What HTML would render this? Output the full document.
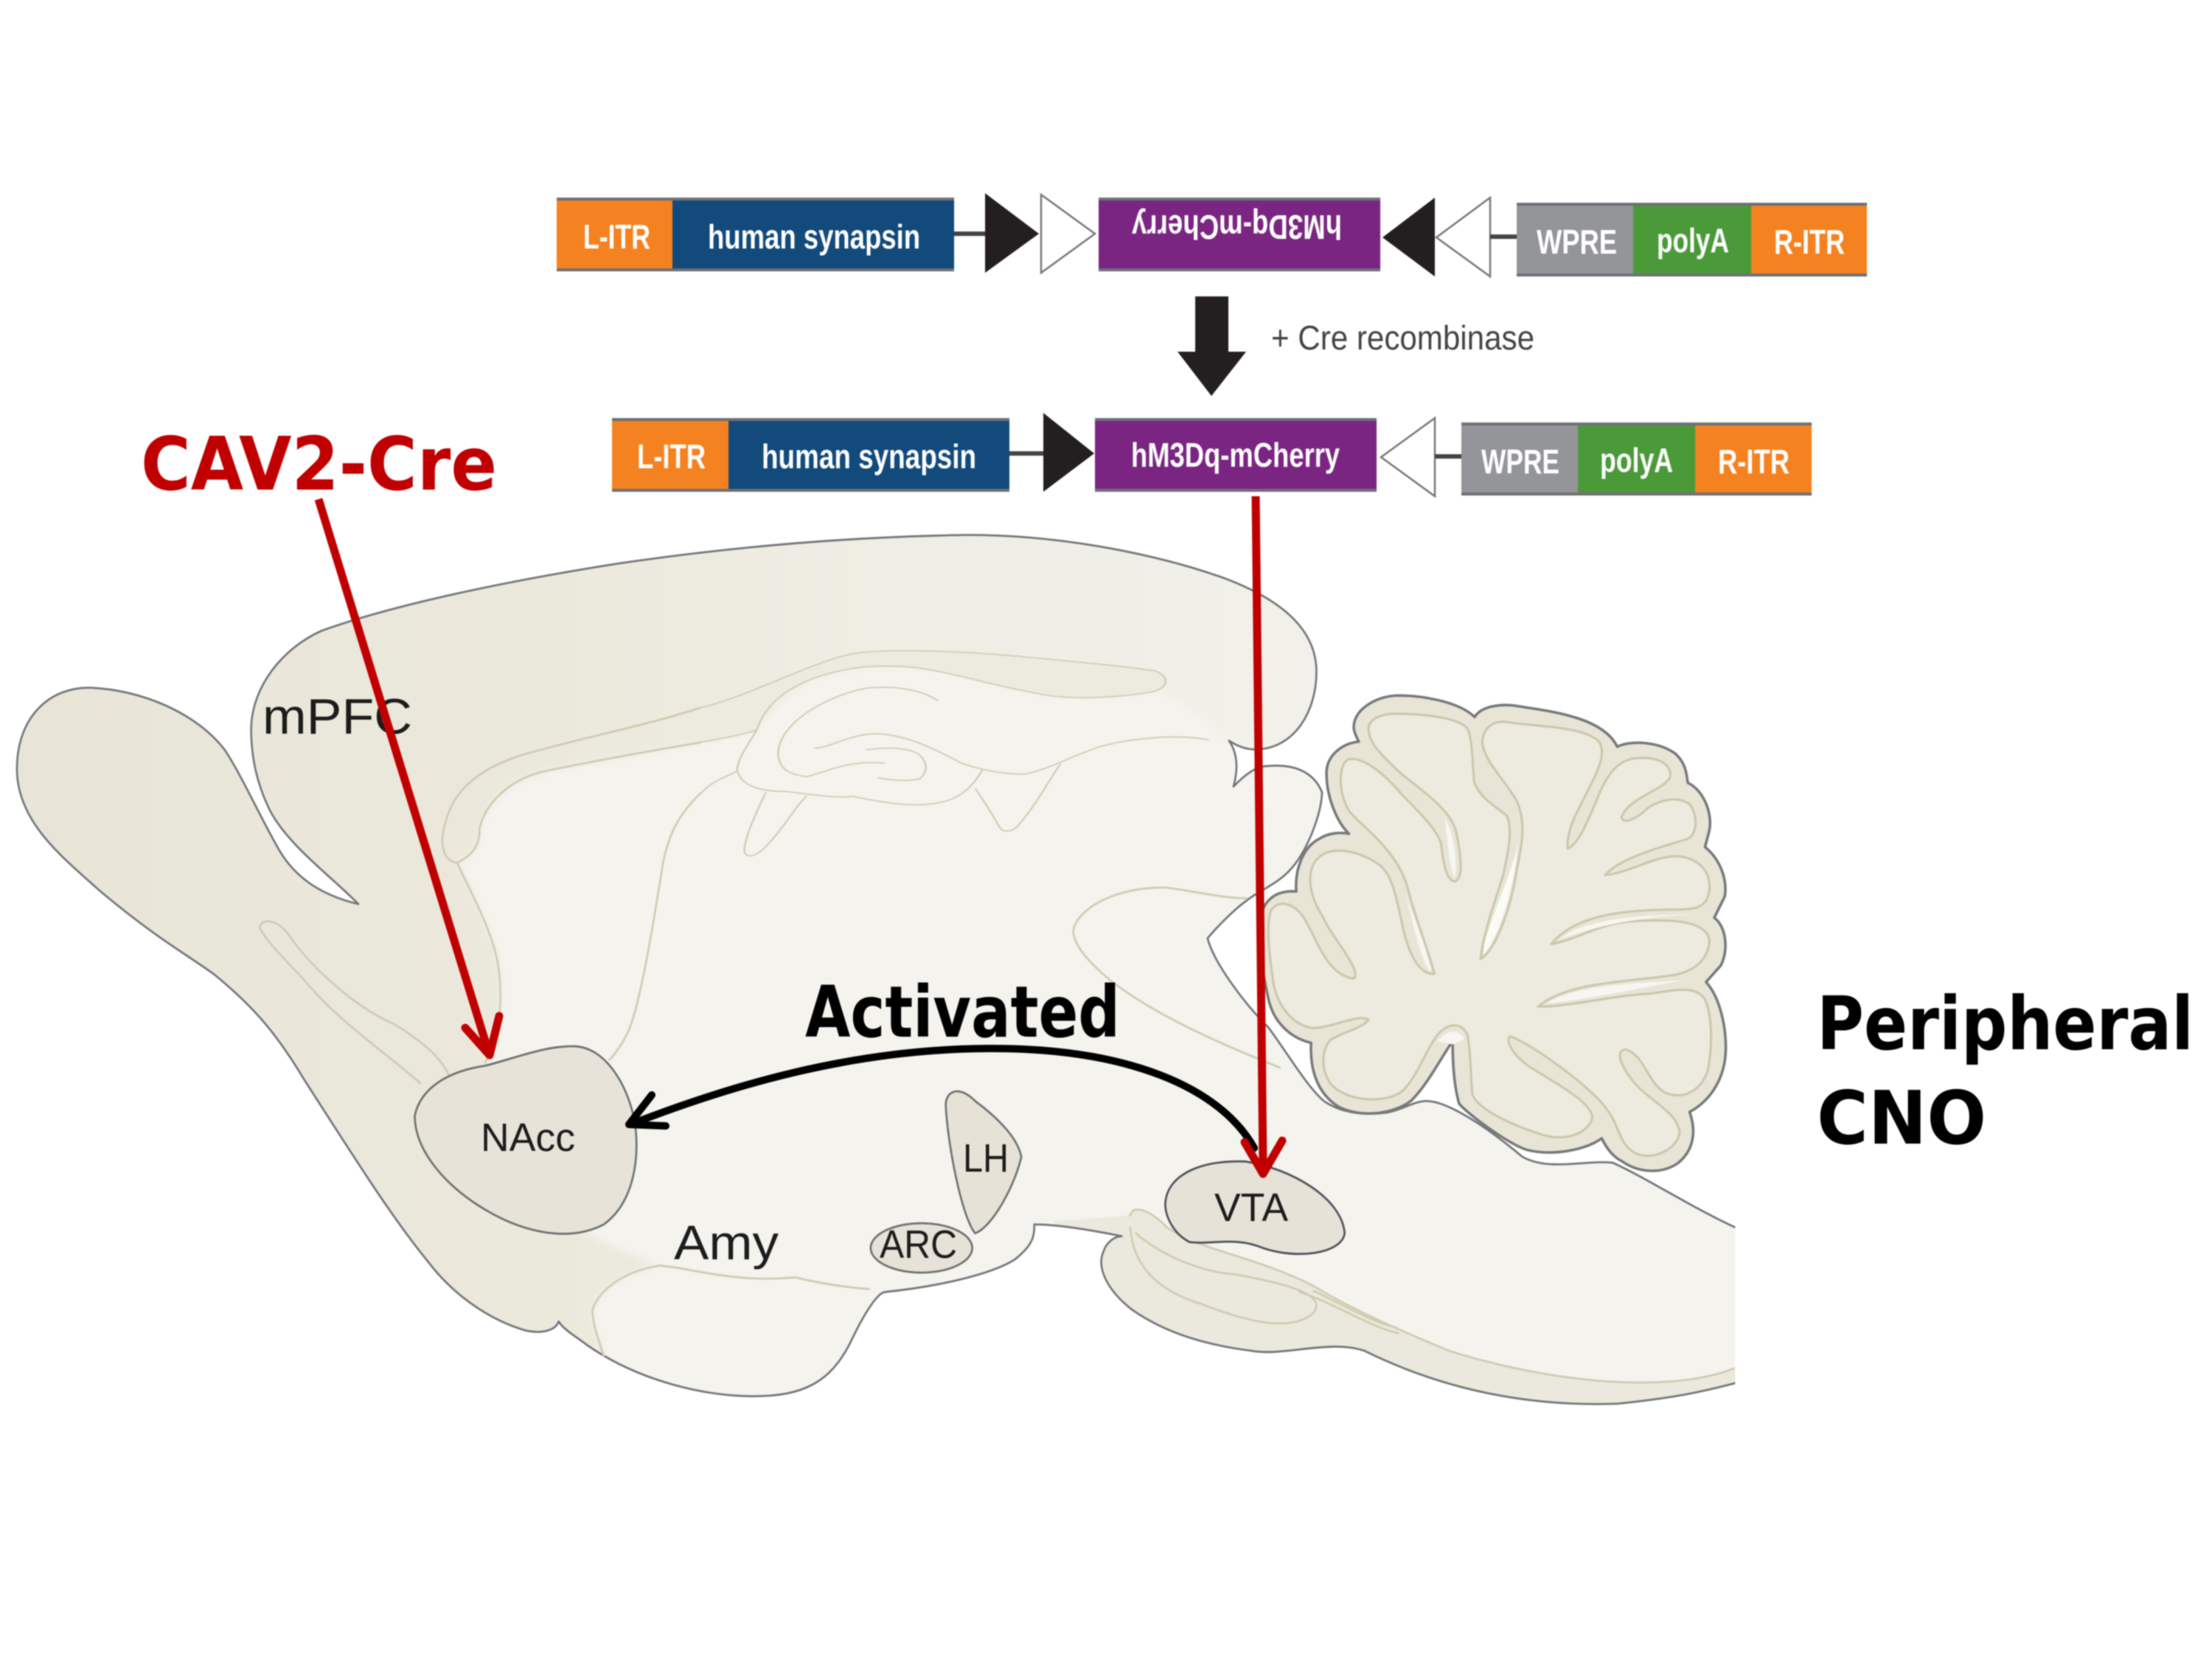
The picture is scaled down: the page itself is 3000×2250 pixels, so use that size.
<!DOCTYPE html>
<html><head><meta charset="utf-8"><style>
html,body{margin:0;padding:0;background:#fff}
svg{display:block;filter:blur(.8px)}
text{font-family:"Liberation Sans",sans-serif}
.w{fill:#fff;font-weight:bold;font-size:46px}
.l{fill:#1c1c1c;font-size:54px}
.b{font-family:"DejaVu Sans","Liberation Sans",sans-serif;font-weight:bold}
</style></head><body>
<svg xmlns="http://www.w3.org/2000/svg" width="3000" height="2250" viewBox="0 0 3000 2250">
<defs>
<path id="sil" d="M 635 660 C 590 615 510 560 478 500 C 455 455 445 410 445 360 C 447 290 500 225 570 195 C 700 150 900 110 1100 80 C 1300 52 1500 35 1716 32 C 1866 32 2036 60 2168 105 C 2266 140 2333 190 2333 265 C 2333 330 2296 395 2226 397 C 2206 397 2191 390 2178 382 C 2191 400 2196 425 2186 460 C 2206 440 2226 425 2248 425 C 2286 422 2326 430 2343 470 C 2341 510 2316 570 2288 600 C 2266 625 2226 640 2208 655 C 2186 670 2156 700 2140 718 C 2151 760 2206 830 2248 870 C 2286 920 2316 970 2346 995 C 2376 1015 2416 1020 2456 1015 C 2486 1010 2506 995 2528 995 C 2566 995 2636 1040 2698 1090 C 2746 1115 2806 1095 2858 1100 C 2916 1125 2996 1175 3075 1210 L 3101 1222 L 3101 1470 L 3075 1475 C 3016 1490 2966 1500 2866 1510 C 2716 1515 2566 1490 2418 1420 C 2356 1400 2276 1430 2218 1420 C 2136 1410 2066 1390 2006 1350 C 1966 1320 1941 1280 1956 1250 C 1961 1235 1976 1225 1988 1225 C 1936 1215 1876 1205 1833 1205 C 1833 1225 1831 1240 1798 1265 C 1756 1290 1666 1310 1568 1320 C 1556 1322 1535 1350 1510 1400 C 1480 1460 1440 1495 1350 1497 C 1250 1500 1130 1470 1040 1410 C 1020 1395 1000 1385 990 1370 C 985 1385 960 1392 930 1385 C 860 1365 800 1320 760 1270 C 700 1200 640 1110 540 960 C 490 880 450 835 380 780 C 330 745 280 720 180 640 C 110 580 30 520 30 430 C 30 340 90 290 160 292 C 250 295 350 335 400 400 C 430 445 455 500 490 560 C 520 615 570 645 635 660 Z"/>
<clipPath id="cs"><use href="#sil"/></clipPath>
<clipPath id="cr"><rect x="0" y="0" width="3075" height="1700"/></clipPath>
<linearGradient id="gd" gradientUnits="userSpaceOnUse" x1="0" y1="0" x2="2400" y2="0"><stop offset="0" stop-color="#e8e5d8"/><stop offset=".4" stop-color="#ebe8dc"/><stop offset=".65" stop-color="#efeee4"/><stop offset="1" stop-color="#f2f1ea"/></linearGradient>
<filter id="soft" x="-5%" y="-5%" width="110%" height="110%"><feGaussianBlur stdDeviation="7"/></filter>
</defs>
<rect width="3000" height="2250" fill="#fff"/>

<!-- BRAIN -->
<g transform="translate(0,700) scale(.7653,.7972)" fill="none" stroke-linecap="round" stroke-linejoin="round">
<g clip-path="url(#cr)">
<use href="#sil" fill="#f4f3ed"/>
<g clip-path="url(#cs)">
<path filter="url(#soft)" fill="url(#gd)" d="M 0 0 L 2420 0 L 2420 397 L 2226 400 L 2178 382 C 2130 350 2100 310 2041 298 C 1960 310 1900 310 1835 300 C 1760 280 1700 260 1616 257 C 1540 250 1480 265 1441 276 C 1400 300 1360 330 1341 363 L 1241 385 C 1150 400 1060 415 960 435 C 900 450 860 490 850 530 C 850 560 840 575 810 590 C 840 650 880 720 885 780 C 890 830 885 880 860 930 L 1000 1100 L 1040 1220 C 1070 1240 1130 1260 1170 1275 C 1100 1285 1060 1320 1050 1350 C 1050 1380 1065 1410 1070 1430 L 1000 1600 L 0 1600 Z"/>
<path transform="translate(1568,0)" fill="#ebe9dd" d="M 430 1190 C 440 1170 470 1180 500 1210 C 560 1250 660 1260 760 1310 C 830 1350 900 1380 1000 1420 C 1200 1480 1400 1490 1510 1450 L 1530 1560 L 300 1560 L 300 1200 Z"/>
</g>
<use href="#sil" stroke="#74777a" stroke-width="3.5"/>
</g>

<g stroke="#cfcbb3" stroke-width="3.5">
<path d="M 810 590 C 780 585 780 550 790 520 C 805 460 860 425 930 405 C 1040 375 1150 355 1241 326"/>
<path d="M 810 590 C 840 575 850 560 850 530 C 860 490 900 450 960 435 C 1060 415 1150 400 1241 385"/>
<path d="M 810 590 C 840 650 880 720 885 780 C 890 830 885 880 860 930"/>
<path d="M 1241 472 C 1205 505 1185 540 1175 590 C 1160 680 1140 800 1120 860 C 1110 890 1090 915 1080 925"/>
<path d="M 745 965 C 680 910 600 860 540 790 C 500 750 470 720 460 700 C 465 680 495 690 510 710 C 560 780 640 840 700 865 C 750 895 780 920 795 950"/>
<path d="M 1070 1430 C 1065 1410 1050 1380 1050 1350 C 1060 1320 1100 1285 1170 1275 C 1230 1280 1300 1305 1410 1295 C 1450 1305 1500 1312 1540 1315"/>
</g>
<g transform="translate(1568,0)">
<g stroke="#cfcbb3" stroke-width="3.5">
<path d="M 700 938 C 600 900 480 850 400 790 C 350 750 330 720 335 700 C 350 660 420 630 500 632 C 560 640 600 650 640 650"/>
<path d="M 435 1190 C 440 1170 470 1180 500 1210 C 560 1250 660 1260 760 1310 C 830 1350 900 1380 1000 1420 C 1200 1480 1400 1490 1505 1450"/>
<path d="M 735 1320 C 800 1340 860 1380 910 1390 M 760 1318 C 810 1340 860 1370 905 1380"/>
<path d="M 435 1210 C 440 1280 490 1320 560 1340 C 640 1370 720 1390 760 1355 C 780 1330 740 1310 620 1290 C 550 1285 480 1250 445 1220"/>
</g>
<path fill="#e6e2d7" stroke="#6f7172" stroke-width="3.5" stroke-dasharray="14 2" d="M 108 1000 C 110 975 135 970 160 995 C 195 1020 235 1055 242 1090 C 230 1140 190 1210 160 1220 C 135 1190 110 1060 108 1000 Z"/>
<ellipse cx="65" cy="1245" rx="90" ry="42" fill="#e6e2d7" stroke="#6f7172" stroke-width="3.5" stroke-dasharray="10 2"/>
<path fill="#e6e2d7" stroke="#50525a" stroke-width="3.5" d="M 497 1170 C 500 1120 560 1095 640 1098 C 720 1110 810 1160 815 1220 C 810 1255 730 1265 670 1245 C 620 1225 580 1240 540 1235 C 510 1220 497 1190 497 1170 Z"/>
</g>
<path fill="#e7e3d8" stroke="#6f7172" stroke-width="3.5" d="M 735 1020 C 745 975 790 945 860 935 C 920 920 970 900 1020 902 C 1070 905 1110 960 1125 1030 C 1135 1100 1120 1170 1070 1205 C 1010 1235 930 1220 860 1180 C 790 1140 735 1080 735 1020 Z"/>
</g>

<!-- hippocampus / callosum -->
<g transform="translate(950,880) scale(.4783,.3333)" fill="none" stroke="#cfcbb3" stroke-width="5" stroke-linecap="round" stroke-linejoin="round">
<path style="fill:#ecebe0" d="M 0 240 C 120 200 280 80 400 30 C 480 -5 700 5 900 30 C 1050 50 1200 70 1290 90 C 1330 110 1330 160 1280 175 C 1180 200 1040 210 950 180 C 800 140 700 90 600 75 C 480 60 400 80 320 120 C 230 170 180 240 160 330 C 120 350 60 365 0 380 Z" stroke="none"/>
<path d="M 0 240 C 120 200 280 80 400 30 C 480 -5 700 5 900 30 C 1050 50 1200 70 1290 90 C 1330 110 1330 160 1280 175 C 1180 200 1040 210 950 180 C 800 140 700 90 600 75 C 480 60 400 80 320 120 C 230 170 180 240 160 330 C 120 350 60 365 0 380"/>
<path d="M 160 330 C 130 400 100 460 105 500 C 120 560 170 580 240 580 C 300 590 390 610 430 600 C 500 620 600 650 680 625 C 730 610 770 570 800 490"/>
<path d="M 100 500 C 60 530 30 540 0 590"/>
<path d="M 672 210 C 620 160 540 150 470 160 C 360 190 220 300 220 430 C 225 490 250 510 300 520 C 350 505 420 450 520 465"/>
<path d="M 325 405 C 380 395 430 345 500 345 C 590 350 680 420 740 465 C 800 495 860 510 920 510 C 990 490 1060 430 1140 395 C 1220 365 1350 345 1440 370"/>
<path d="M 470 410 C 530 400 590 400 620 430 C 650 470 640 510 620 530 C 580 540 540 535 505 525"/>
<path d="M 1020 470 C 990 530 950 640 900 720 C 880 750 860 745 850 730 C 830 680 805 620 780 570"/>
<path d="M 185 585 C 160 660 120 780 125 830 C 140 860 170 830 195 790 C 240 720 270 640 300 600"/>
</g>

<!-- cerebellum -->
<g transform="translate(1700,930) scale(.4464)" stroke-linejoin="round">
<path fill="#e8e5d7" stroke="#77797a" stroke-width="8" d="M 305 120 C 310 70 370 35 430 30 C 500 28 620 45 672 95 C 690 65 740 55 790 60 C 880 75 1060 90 1105 185 C 1150 165 1230 170 1280 205 C 1320 240 1315 280 1320 295 C 1370 320 1395 390 1385 440 L 1372 490 C 1420 530 1440 590 1432 640 L 1400 705 C 1435 730 1445 800 1420 850 L 1375 900 C 1420 950 1435 1040 1435 1100 C 1435 1190 1390 1260 1325 1295 C 1345 1350 1340 1410 1290 1450 C 1240 1485 1170 1480 1120 1445 C 1090 1430 1070 1400 1058 1375 C 1010 1410 910 1430 830 1410 C 770 1390 650 1300 625 1270 C 610 1220 605 1150 605 1080 C 570 1130 530 1210 480 1260 C 430 1300 330 1315 260 1280 C 210 1250 170 1190 175 1085 C 110 1070 60 1020 45 950 C 30 880 15 800 20 730 C 20 660 60 620 130 625 C 125 560 150 490 200 465 C 230 445 270 445 290 450 C 250 410 220 330 222 260 C 225 210 270 175 320 170 C 310 150 303 135 305 120 Z"/>
<path fill="#edebe0" stroke="#cbc7ac" stroke-width="7" d="M 350 125 C 355 100 390 85 430 85 C 510 85 620 95 650 130 C 665 160 665 230 670 290 C 685 340 740 370 770 395 C 790 440 770 520 760 570 C 740 640 700 740 690 830 C 730 810 780 690 800 560 C 815 480 830 420 800 350 C 760 280 700 230 695 170 C 700 125 730 105 770 110 C 850 125 1000 120 1050 170 C 1075 210 1040 270 1010 330 C 980 390 950 440 955 495 C 990 480 1020 400 1050 330 C 1075 270 1110 220 1170 220 C 1230 215 1275 240 1265 280 C 1240 320 1140 340 1118 400 C 1125 425 1170 400 1200 370 C 1240 345 1290 335 1325 360 C 1350 390 1350 450 1320 465 C 1240 490 1120 520 1068 575 C 1140 570 1220 515 1290 518 C 1350 525 1390 560 1385 620 C 1380 670 1350 680 1290 680 C 1150 680 980 690 905 785 C 990 770 1050 720 1160 715 C 1260 710 1370 710 1385 770 C 1385 830 1340 870 1270 880 C 1140 900 950 900 865 975 C 960 975 1100 940 1210 935 C 1280 925 1340 910 1370 950 C 1395 1000 1395 1100 1380 1170 C 1360 1230 1310 1255 1260 1240 C 1200 1220 1190 1120 1130 1105 C 1090 1110 1130 1180 1170 1220 C 1220 1270 1290 1300 1295 1360 C 1285 1410 1210 1445 1160 1420 C 1110 1395 1110 1330 1075 1290 C 1040 1230 850 1090 780 1065 C 760 1080 800 1140 860 1170 C 920 1210 1020 1260 1030 1310 C 1020 1360 950 1385 880 1365 C 800 1340 680 1290 665 1240 C 660 1190 660 1110 650 1060 C 630 1020 590 1025 560 1060 C 520 1110 490 1210 440 1240 C 380 1270 280 1260 235 1210 C 200 1160 210 1100 235 1075 C 280 1050 330 1040 350 1015 C 320 995 240 1040 180 1040 C 110 1030 70 960 60 900 C 50 830 35 720 55 680 C 80 650 120 660 150 700 C 190 760 220 880 305 890 C 330 860 240 770 210 700 C 170 640 155 560 200 520 C 250 480 340 510 390 550 C 430 590 440 680 460 760 C 480 830 510 880 550 875 C 530 800 490 700 470 620 C 440 500 330 430 290 380 C 260 330 255 250 285 225 C 330 210 400 270 450 330 C 500 380 560 440 570 480 C 575 530 585 590 610 595 C 640 590 630 510 615 440 C 590 360 480 300 430 250 C 390 210 345 170 350 125 Z"/>
<g fill="#fbfbf8">
<path d="M 700 815 C 740 770 785 650 805 480 C 780 580 730 680 700 790 Z"/>
<path d="M 462 640 C 490 730 510 850 540 868 C 525 790 490 710 462 640 Z" fill="#f7f6f2"/>
<path d="M 580 400 C 610 450 620 530 612 585 C 590 540 590 450 580 400 Z" fill="#f7f6f2"/>
<path d="M 930 770 C 1000 710 1180 695 1340 695 C 1180 700 1040 730 930 770 Z" fill="#f7f6f2"/>
<path d="M 890 965 C 980 910 1150 905 1300 895 C 1150 925 1000 955 890 965 Z" fill="#f7f6f2"/>
<path d="M 560 1080 C 585 1045 625 1040 640 1075 L 606 1090 Z" fill="#f7f6f2"/>
</g>
</g>

<!-- brain labels -->
<text class="l" x="356" y="995" style="font-size:68px" textLength="203" lengthAdjust="spacingAndGlyphs">mPFC</text>
<text class="l" x="652" y="1561" textLength="128" lengthAdjust="spacingAndGlyphs">NAcc</text>
<text class="l" x="914" y="1708" style="font-size:66px" textLength="142" lengthAdjust="spacingAndGlyphs">Amy</text>
<text class="l" x="1306" y="1589" textLength="62" lengthAdjust="spacingAndGlyphs">LH</text>
<text class="l" x="1193" y="1706" textLength="105" lengthAdjust="spacingAndGlyphs">ARC</text>
<text class="l" x="1647" y="1656" textLength="100" lengthAdjust="spacingAndGlyphs">VTA</text>

<!-- construct row 1 -->
<g>
<rect x="755" y="268" width="539" height="100" fill="#6f7075"/>
<rect x="755" y="272" width="157" height="92" fill="#f58220"/>
<rect x="912" y="272" width="382" height="92" fill="#124a7c"/>
<rect x="1294" y="314" width="42" height="6" fill="#444"/>
<polygon points="1336,262 1409,317 1336,370" fill="#231f20"/>
<polygon points="1412,264 1485,317 1412,370" fill="#fff" stroke="#777" stroke-width="2.5"/>
<rect x="1490" y="268" width="382" height="100" fill="#6f6f7a"/>
<rect x="1490" y="272" width="382" height="92" fill="#7b2582"/>
<polygon points="1875,322 1946,268 1946,375" fill="#231f20"/>
<polygon points="1948,322 2021,268 2021,375" fill="#fff" stroke="#777" stroke-width="2.5"/>
<rect x="2021" y="318" width="36" height="6" fill="#444"/>
<rect x="2057" y="275" width="475" height="100" fill="#6f7075"/>
<rect x="2057" y="279" width="158" height="92" fill="#939598"/>
<rect x="2215" y="279" width="160" height="92" fill="#4b9a3a"/>
<rect x="2375" y="279" width="157" height="92" fill="#f58220"/>
<text class="w" x="791" y="337" textLength="91" lengthAdjust="spacingAndGlyphs">L-ITR</text>
<text class="w" x="960" y="337" textLength="288" lengthAdjust="spacingAndGlyphs">human synapsin</text>
<text class="w" transform="rotate(180 1678 315)" x="1536" y="338" textLength="285" lengthAdjust="spacingAndGlyphs">hM3Dq-mCherry</text>
<text class="w" x="2084" y="344" textLength="109" lengthAdjust="spacingAndGlyphs">WPRE</text>
<text class="w" x="2247" y="342" textLength="98" lengthAdjust="spacingAndGlyphs">polyA</text>
<text class="w" x="2406" y="344" textLength="96" lengthAdjust="spacingAndGlyphs">R-ITR</text>
</g>

<!-- down arrow -->
<rect x="1621" y="402" width="45" height="78" fill="#231f20"/>
<polygon points="1597,477 1690,477 1643,537" fill="#231f20"/>
<text x="1724" y="474" style="font-size:46px" fill="#444" textLength="357" lengthAdjust="spacingAndGlyphs">+ Cre recombinase</text>

<!-- construct row 2 -->
<g>
<rect x="830" y="567" width="539" height="100" fill="#6f7075"/>
<rect x="830" y="571" width="158" height="92" fill="#f58220"/>
<rect x="988" y="571" width="381" height="92" fill="#124a7c"/>
<rect x="1369" y="612" width="46" height="6" fill="#444"/>
<polygon points="1415,560 1484,615 1415,667" fill="#231f20"/>
<rect x="1485" y="567" width="382" height="100" fill="#6f6f7a"/>
<rect x="1485" y="571" width="382" height="92" fill="#7b2582"/>
<polygon points="1873,620 1946,567 1946,673" fill="#fff" stroke="#777" stroke-width="2.5"/>
<rect x="1946" y="616" width="36" height="6" fill="#444"/>
<rect x="1982" y="573" width="475" height="99" fill="#6f7075"/>
<rect x="1982" y="577" width="158" height="91" fill="#939598"/>
<rect x="2140" y="577" width="159" height="91" fill="#4b9a3a"/>
<rect x="2299" y="577" width="158" height="91" fill="#f58220"/>
<text class="w" x="864" y="635" textLength="93" lengthAdjust="spacingAndGlyphs">L-ITR</text>
<text class="w" x="1033" y="635" textLength="291" lengthAdjust="spacingAndGlyphs">human synapsin</text>
<text class="w" x="1534" y="633" textLength="283" lengthAdjust="spacingAndGlyphs">hM3Dq-mCherry</text>
<text class="w" x="2009" y="642" textLength="106" lengthAdjust="spacingAndGlyphs">WPRE</text>
<text class="w" x="2170" y="640" textLength="99" lengthAdjust="spacingAndGlyphs">polyA</text>
<text class="w" x="2330" y="642" textLength="97" lengthAdjust="spacingAndGlyphs">R-ITR</text>
</g>

<!-- black activation arrow -->
<g fill="none" stroke="#000" stroke-width="10" stroke-linecap="round" stroke-linejoin="round">
<path d="M 1701 1557 C 1655 1475 1530 1421 1340 1422 C 1150 1423 985 1475 860 1523"/>
<path d="M 884 1485 L 853 1525 L 903 1527"/>
</g>
<!-- red arrows -->
<g fill="none" stroke="#c00000" stroke-width="11" stroke-linecap="round" stroke-linejoin="round">
<path d="M 432 677 L 662 1425" stroke-linecap="butt"/>
<path d="M 631 1394 L 664 1431 L 677 1378"/>
<path d="M 1703 673 L 1713 1585" stroke-linecap="butt"/>
<path d="M 1688 1549 L 1713 1592 L 1739 1547"/>
</g>

<!-- bold labels -->
<text class="b" x="191" y="664" style="font-size:100px" fill="#c00000" textLength="483" lengthAdjust="spacingAndGlyphs">CAV2-Cre</text>
<text class="b" x="1092" y="1406" style="font-size:96px" fill="#000" textLength="427" lengthAdjust="spacingAndGlyphs">Activated</text>
<text class="b" x="2464" y="1423" style="font-size:100px" fill="#000" textLength="511" lengthAdjust="spacingAndGlyphs">Peripheral</text>
<text class="b" x="2464" y="1551" style="font-size:100px" fill="#000" textLength="230" lengthAdjust="spacingAndGlyphs">CNO</text>
</svg>
</body></html>
